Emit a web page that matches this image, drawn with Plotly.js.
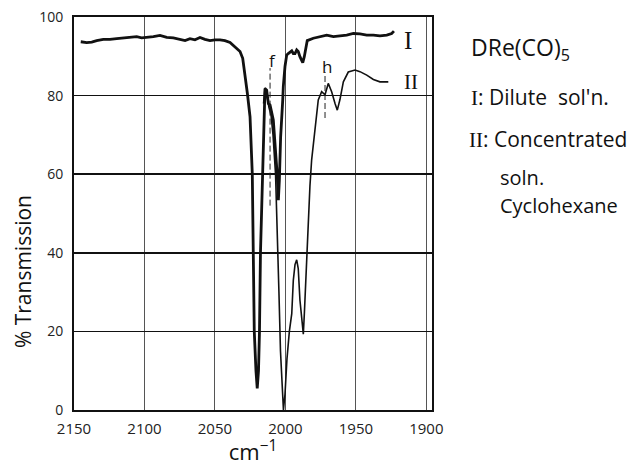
<!DOCTYPE html>
<html>
<head>
<meta charset="utf-8">
<script src="https://cdn.plot.ly/plotly-3.0.1.min.js"></script>
<style>html,body{margin:0;padding:0;background:#fff;}</style>
</head>
<body>
<div id="chart" style="width:641px;height:466px;"></div>
<script>
// Curve I : dilute solution (wavenumber cm-1, % transmission)
const dilute_x = [2145.2,2141.0,2137.4,2133.9,2129.2,2124.5,2119.7,2115.0,2110.3,2105.5,2102.0,2098.4,2093.7,2089.0,2084.2,2079.5,2074.8,2071.2,2067.7,2064.2,2060.6,2057.1,2053.5,2050.0,2046.4,2042.9,2039.3,2035.8,2032.2,2030.3,2028.7,2027.0,2025.1,2023.5,2022.8,2022.1,2020.9,2020.0,2019.1,2018.4,2017.7,2016.6,2015.9,2015.2,2014.5,2013.3,2012.1,2010.9,2008.6,2005.8,2005.0,2004.3,2003.4,2001.9,2001.5,2000.3,1999.1,1998.0,1996.7,1995.5,1994.4,1993.2,1992.0,1990.9,1989.7,1987.7,1986.6,1985.4,1984.5,1980.2,1975.5,1970.7,1966.0,1961.3,1956.5,1951.8,1947.1,1942.3,1937.6,1932.9,1928.1,1924.6,1923.0];
const dilute_y = [93.7,93.5,93.6,94.0,94.3,94.3,94.5,94.7,94.8,95.0,94.7,94.8,95.0,95.3,94.8,94.7,94.3,94.0,94.5,94.2,94.8,94.3,94.0,94.2,94.2,94.0,93.5,92.4,91.2,89.5,85.7,80.6,74.6,60,40,20,10,5.5,10,20,40,55,65,75,81.8,81.4,78.0,77.6,73.8,59.8,53.4,58.5,69.5,78.9,82.3,87.4,90.3,90.7,91.2,91.4,90.7,90.7,91.6,91.2,89.9,88.4,89.9,92.9,94.0,94.6,95.0,95.4,95.0,95.2,95.4,95.8,95.7,95.4,95.4,95.2,95.4,95.8,96.4];

// Curve II : concentrated solution
const conc_x = [2015.5,2014.5,2013.1,2011.7,2010.2,2008.8,2007.0,2005.6,2004.6,2003.5,2002.4,2001.4,2000.3,1998.9,1997.2,1995.5,1994.4,1993.2,1992.0,1990.9,1989.7,1988.4,1987.3,1986.5,1985.4,1983.8,1982.6,1981.4,1979.0,1976.7,1974.3,1971.9,1969.6,1967.2,1964.8,1963.2,1961.3,1958.9,1955.4,1950.6,1947.1,1942.3,1937.6,1932.9,1927.0];
const conc_y = [78,82,80,77,75,70,60,45,30,15,5,0,4,13,20,24.5,33,37,38.2,36,28,22,19.3,25,35,50,57,63.6,72,78.9,81,80.2,83.1,81,78,76.3,79,83.5,86,86.5,86.1,85.2,84.1,83.5,83.5];

// band markers (dashed) and their labels
const marker_labels = ["f","h"];
const marker_x = [2010.9, 1971.9];
const marker_top = [87, 86];
const marker_bottom = [52, 74.3];
const marker_label_y = [89, 87.5];

// curve labels inside the frame
const curve_labels = ["I","II"];
const curve_label_x = [1913, 1911];
const curve_label_y = [94, 83.5];

const xTicks = [2150,2100,2050,2000,1950,1900];
const yTicks = [0,20,40,60,80,100];

const FONT = "'Open Sans', Lato, sans-serif";
const SERIF = "'Liberation Serif', 'DejaVu Serif', serif";

const traces = [
  {x: dilute_x, y: dilute_y, mode: 'lines', line: {color: '#111', width: 2.8}, hoverinfo: 'skip'},
  {x: conc_x, y: conc_y, mode: 'lines', line: {color: '#111', width: 1.6}, hoverinfo: 'skip'}
];
marker_x.forEach((mx, i) => {
  traces.push({x: [mx, mx], y: [marker_bottom[i], marker_top[i]], mode: 'lines',
    line: {color: '#222', width: 1, dash: '6px,3px'}, hoverinfo: 'skip'});
});

const annotations = marker_labels.map((t, i) => ({
  x: marker_x[i], y: marker_label_y[i], xref: 'x', yref: 'y', text: t, showarrow: false,
  font: {family: FONT, size: 17, color: '#111'}, xshift: 2
}));
curve_labels.forEach((t, i) => annotations.push({
  x: curve_label_x[i], y: curve_label_y[i], xref: 'x', yref: 'y', text: t, showarrow: false,
  font: {family: SERIF, size: i === 0 ? 25 : 21, color: '#111'}
}));

const NB = '\u00a0';
const side = (x, y, text, size) => ({x: x, y: y, xref: 'paper', yref: 'paper', xanchor: 'left', yanchor: 'middle',
  borderpad: 0, text: text, showarrow: false, font: {family: FONT, size: size, color: '#111'}});
annotations.push(
  side(1.106, 0.921, 'DRe(CO)<sub>5</sub>', 23),
  side(1.106, 0.796, '<span style="font-family:\'Liberation Serif\'">I</span>:' + NB + 'Dilute' + NB + NB + 'sol\'n.', 21),
  side(1.100, 0.690, '<span style="font-family:\'Liberation Serif\'">II</span>:' + NB + 'Concentrated', 21),
  side(1.186, 0.592, 'soln.', 20),
  side(1.186, 0.520, 'Cyclohexane', 20),
  {x: -0.144, y: 0.352, xref: 'paper', yref: 'paper', xanchor: 'center', yanchor: 'middle',
   text: '%' + NB + 'Transmission', textangle: -90, showarrow: false, font: {family: FONT, size: 21, color: '#111'}}
);

const layout = {
  width: 641, height: 466,
  margin: {l: 74, r: 209, t: 17, b: 56},
  paper_bgcolor: '#fff', plot_bgcolor: '#fff',
  showlegend: false,
  font: {family: FONT, color: '#111'},
  xaxis: {
    range: [2150, 1896], tickvals: xTicks, ticktext: xTicks.map(String),
    showgrid: true, gridcolor: '#555', gridwidth: 1,
    zeroline: false, showline: true, mirror: true, linecolor: '#111', linewidth: 2,
    ticks: '', tickfont: {family: FONT, size: 15, color: '#222'}, ticklabelstandoff: 4,
    title: {text: 'cm<sup>−1</sup>', font: {family: FONT, size: 22, color: '#111'}, standoff: 5}
  },
  yaxis: {
    range: [0, 100], tickvals: yTicks, ticktext: yTicks.map(String),
    showgrid: true, gridcolor: '#111', gridwidth: 1.5,
    zeroline: false, showline: true, mirror: true, linecolor: '#111', linewidth: 2,
    ticks: '', tickfont: {family: FONT, size: 14, color: '#222'}, ticklabelstandoff: 6
  },
  annotations: annotations
};

Plotly.newPlot('chart', traces, layout, {staticPlot: true, displayModeBar: false});
</script>
</body>
</html>
